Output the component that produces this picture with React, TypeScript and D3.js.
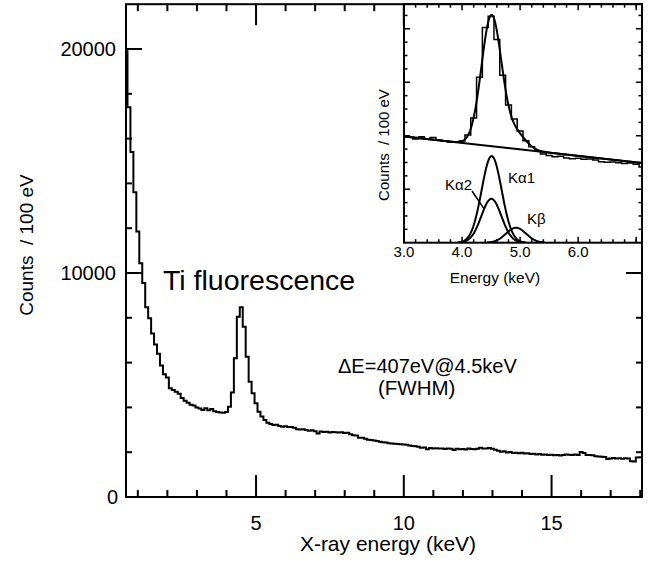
import React from 'react';
import * as d3 from 'd3';

// ---- data: counts per 100 eV bin, bin centres from 0.6 keV in 0.1 keV steps ----
const binStart = 0.6;
const binWidth = 0.1;
const counts = [
  19900, 17400, 15400, 13600, 11850, 10430, 9550, 8470, 7980, 7300,
  6810, 6400, 5870, 5480, 5330, 4850, 4780, 4700, 4610, 4420,
  4300, 4210, 4120, 4080, 3990, 3950, 3880, 3960, 3870, 3930,
  3830, 3790, 3770, 3760, 3800, 4030, 4660, 6190, 8050, 8470,
  7600, 6260, 5150, 4630, 4180, 3810, 3590, 3440, 3320, 3260,
  3210, 3230, 3170, 3140, 3160, 3120, 3130, 3090, 3030, 3010,
  3020, 2990, 2960, 2980, 2930, 2830, 2920, 2900, 2910, 2880,
  2900, 2890, 2880, 2890, 2860, 2870, 2800, 2760, 2740, 2650,
  2640, 2600, 2560, 2540, 2520, 2500, 2470, 2440, 2430, 2400,
  2390, 2380, 2370, 2360, 2340, 2330, 2300, 2280, 2270, 2240,
  2200, 2210, 2130, 2190, 2170, 2180, 2160, 2170, 2140, 2160,
  2150, 2100, 2150, 2130, 2140, 2120, 2160, 2140, 2130, 2150,
  2200, 2160, 2170, 2190, 2150, 2110, 2060, 2020, 2040, 1990,
  2010, 1960, 1980, 1950, 1970, 1940, 1950, 1920, 1930, 1900,
  1920, 1890, 1900, 1870, 1890, 1860, 1870, 1850, 1880, 1900,
  1890, 1880, 1900, 1870, 2010, 1960, 1880, 1870, 1860, 1820,
  1810, 1800, 1790, 1700, 1720, 1740, 1720, 1730, 1710, 1730,
  1720, 1600, 1580, 1760, 1770,
];

// main axes ticks
const xMajorTicks = [5, 10, 15];
const xMinorTicks = [1, 2, 3, 4, 6, 7, 8, 9, 11, 12, 13, 14, 16, 17, 18];
const yMajorTicks = [0, 10000, 20000];
const yMinorTicks = [2000, 4000, 6000, 8000, 12000, 14000, 16000, 18000];

// inset ticks
const insetXLabels = [3, 4, 5, 6];
const insetXMajor = [3, 4, 5, 6, 7];
const insetXMinor = [3.2, 3.4, 3.6, 3.8, 4.2, 4.4, 4.6, 4.8, 5.2, 5.4, 5.6, 5.8, 6.2, 6.4, 6.6, 6.8, 7.0];
const insetYMajor = [2000, 4000, 6000, 8000];
const insetYMinor = [500, 1000, 1500, 2500, 3000, 3500, 4500, 5000, 5500, 6500, 7000, 7500, 8500];

// inset fit: linear background + gaussian line components
const bgEnergies = [3.0, 7.1];
const bgCounts = [3975, 2980];
const compNames = ['Kα1', 'Kα2', 'Kβ'];
const compCenters = [4.51, 4.505, 4.93];
const compAmps = [3240, 1640, 560];
const compSigma = [0.173, 0.173, 0.173];

const FONT = "'Liberation Sans', Arial, Helvetica, sans-serif";

export default function App() {
  const W = 651, H = 570;
  const L = 126, R = 642, T = 4.2, B = 497;
  const x = d3.scaleLinear().domain([0.6, 18.06]).range([L, R]);
  const y = d3.scaleLinear().domain([0, 22000]).range([B, T]);

  const bins = counts.map((c, i) => ({ e: binStart + i * binWidth, c }));
  const stepPts = (bs: { e: number; c: number }[]) =>
    bs.flatMap((d) => [[d.e - binWidth / 2, d.c], [d.e + binWidth / 2, d.c]] as [number, number][]);

  const mainLine = d3.line<[number, number]>().x((d) => x(d[0])).y((d) => y(d[1]));

  // inset scales
  const iL = 404, iR = 642, iT = 4.2, iB = 242.7;
  const ix = d3.scaleLinear().domain([3.0, 7.1]).range([iL, iR]);
  const iy = d3.scaleLinear().domain([0, 8920]).range([iB, iT]);
  const insetLine = d3.line<[number, number]>().x((d) => ix(d[0])).y((d) => iy(d[1]));
  const insetBins = bins.filter((d) => d.e + binWidth / 2 > 3.0 && d.e - binWidth / 2 < 7.1);

  const bgScale = d3.scaleLinear().domain(bgEnergies).range(bgCounts);
  const comp = (k: number, e: number) =>
    compAmps[k] * Math.exp(-((e - compCenters[k]) ** 2) / (2 * compSigma[k] ** 2));
  const grid = d3.range(3.0, 7.1001, 0.01);
  const totalPts = grid.map((e) => [e, bgScale(e) + comp(0, e) + comp(1, e) + comp(2, e)] as [number, number]);
  const bgPts = bgEnergies.map((e, i) => [e, bgCounts[i]] as [number, number]);
  const compPts = compNames.map((_, k) =>
    grid.filter((e) => comp(k, e) > 8).map((e) => [e, comp(k, e)] as [number, number])
  );

  const sw = 2;

  return (
    <svg width={W} height={H} style={{ position: 'absolute', left: 0, top: 0, background: '#fff' }} fontFamily={FONT}>
      <defs>
        <clipPath id="mainClip">
          <rect x={L} y={T} width={R - L} height={B - T} />
        </clipPath>
        <clipPath id="insetClip">
          <rect x={iL} y={iT} width={iR - iL} height={iB - iT} />
        </clipPath>
      </defs>
      <rect x={0} y={0} width={W} height={H} fill="#fff" />

      {/* main ticks */}
      <g stroke="#000" strokeWidth={sw}>
        {xMajorTicks.map((t) => (
          <g key={'xM' + t}>
            <line x1={x(t)} x2={x(t)} y1={B} y2={B - 22} />
            <line x1={x(t)} x2={x(t)} y1={T} y2={T + 21} />
          </g>
        ))}
        {xMinorTicks.map((t) => (
          <g key={'xm' + t}>
            <line x1={x(t)} x2={x(t)} y1={B} y2={B - 7} />
            <line x1={x(t)} x2={x(t)} y1={T} y2={T + 7} />
          </g>
        ))}
        {yMajorTicks.map((t) => (
          <g key={'yM' + t}>
            <line x1={L} x2={L + 16} y1={y(t)} y2={y(t)} />
            <line x1={R} x2={R - 16} y1={y(t)} y2={y(t)} />
          </g>
        ))}
        {yMinorTicks.map((t) => (
          <g key={'ym' + t}>
            <line x1={L} x2={L + 6} y1={y(t)} y2={y(t)} />
            <line x1={R} x2={R - 6} y1={y(t)} y2={y(t)} />
          </g>
        ))}
      </g>

      {/* spectrum */}
      <path d={mainLine(stepPts(bins)) || ''} fill="none" stroke="#000" strokeWidth={2} clipPath="url(#mainClip)" />

      {/* frame */}
      <rect x={L} y={T} width={R - L} height={B - T} fill="none" stroke="#000" strokeWidth={sw} />

      {/* main tick labels */}
      <g fontSize={20} fill="#000">
        {xMajorTicks.map((t) => (
          <text key={'xl' + t} x={x(t)} y={530} textAnchor="middle">{t}</text>
        ))}
        {yMajorTicks.map((t) => (
          <text key={'yl' + t} x={t === 0 ? 118 : 116} y={y(t) + 7} textAnchor="end">{t}</text>
        ))}
      </g>
      <text x={388} y={551} fontSize={21} textAnchor="middle">X-ray energy (keV)</text>
      <text transform="translate(33,245) rotate(-90)" fontSize={19} textAnchor="middle" style={{ whiteSpace: 'pre' }}>
        {'Counts  / 100 eV'}
      </text>
      <text x={163} y={290} fontSize={28.5}>Ti fluorescence</text>
      <text x={338} y={373} fontSize={20}>ΔE=407eV@4.5keV</text>
      <text x={378} y={395} fontSize={20.5}>(FWHM)</text>

      {/* inset */}
      <rect x={iL} y={iT} width={iR - iL} height={iB - iT} fill="#fff" stroke="none" />
      <g stroke="#000" strokeWidth={1.5}>
        {insetXMajor.map((t) => (
          <g key={'ixM' + t}>
            <line x1={ix(t)} x2={ix(t)} y1={iB} y2={iB - 6} />
            <line x1={ix(t)} x2={ix(t)} y1={iT} y2={iT + 6} />
          </g>
        ))}
        {insetXMinor.map((t) => (
          <g key={'ixm' + t}>
            <line x1={ix(t)} x2={ix(t)} y1={iB} y2={iB - 3.5} />
            <line x1={ix(t)} x2={ix(t)} y1={iT} y2={iT + 3.5} />
          </g>
        ))}
        {insetYMajor.map((t) => (
          <g key={'iyM' + t}>
            <line x1={iL} x2={iL + 6} y1={iy(t)} y2={iy(t)} />
            <line x1={iR} x2={iR - 6} y1={iy(t)} y2={iy(t)} />
          </g>
        ))}
        {insetYMinor.map((t) => (
          <g key={'iym' + t}>
            <line x1={iL} x2={iL + 3.5} y1={iy(t)} y2={iy(t)} />
            <line x1={iR} x2={iR - 3.5} y1={iy(t)} y2={iy(t)} />
          </g>
        ))}
      </g>
      <g clipPath="url(#insetClip)" fill="none" stroke="#000">
        <path d={insetLine(stepPts(insetBins)) || ''} strokeWidth={1.5} />
        <path d={insetLine(bgPts) || ''} strokeWidth={2} />
        <path d={insetLine(totalPts) || ''} strokeWidth={2} />
        {compPts.map((pts, k) => (
          <path key={'c' + k} d={insetLine(pts) || ''} strokeWidth={2} />
        ))}
      </g>
      <rect x={iL} y={iT} width={iR - iL} height={iB - iT} fill="none" stroke="#000" strokeWidth={sw} />
      <g fontSize={15}>
        {insetXLabels.map((t) => (
          <text key={'ixl' + t} x={ix(t)} y={257} textAnchor="middle">{t.toFixed(1)}</text>
        ))}
      </g>
      <text x={495} y={283} fontSize={15.5} textAnchor="middle">Energy (keV)</text>
      <text transform="translate(389,145) rotate(-90)" fontSize={15} textAnchor="middle" style={{ whiteSpace: 'pre' }}>
        {'Counts  / 100 eV'}
      </text>
      <text x={508} y={183} fontSize={15}>{compNames[0]}</text>
      <text x={445} y={190} fontSize={15}>{compNames[1]}</text>
      <text x={527} y={224} fontSize={15}>{compNames[2]}</text>
      <line x1={472} y1={191} x2={ix(4.38)} y2={iy(comp(1, 4.38))} stroke="#000" strokeWidth={1.5} />
    </svg>
  );
}
